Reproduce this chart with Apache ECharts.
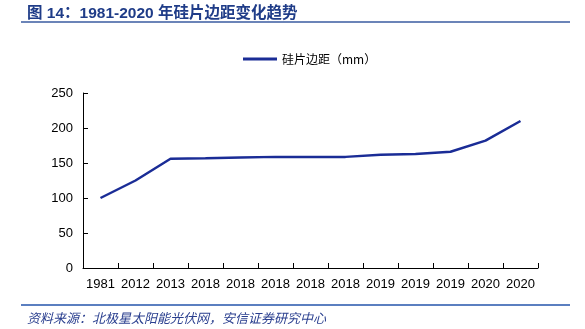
<!DOCTYPE html>
<html><head><meta charset="utf-8">
<script src="https://cdn.jsdelivr.net/npm/echarts@6/dist/echarts.min.js"></script>
<style>html,body{margin:0;padding:0;background:#fff}#c{width:585px;height:329px}</style>
</head><body><div id="c"></div>
<script>
var categories = ['1981','2012','2013','2018','2018','2018','2018','2018','2019','2019','2019','2020','2020'];
var edgeValues = [100,125,156,156.75,157.75,158.75,158.75,158.75,161.7,163,166,182,210];
var seriesName = '硅片边距（mm）';
var yTicks = [0,50,100,150,200,250];
var titleText = '图 14：1981-2020 年硅片边距变化趋势';
var sourceText = '资料来源：北极星太阳能光伏网，安信证券研究中心';

var chart = echarts.init(document.getElementById('c'), null, {renderer:'canvas'});
chart.setOption({
  animation:false,
  backgroundColor:'#fff',
  title:[{
    text:titleText, left:22, top:1,
    textStyle:{fontSize:15.5, fontWeight:'bold', color:'#1f3c88', fontFamily:'Liberation Sans, Noto Sans CJK SC, sans-serif'}
  },{
    text:sourceText, left:22, top:307,
    textStyle:{fontSize:13, fontWeight:'normal', fontStyle:'italic', color:'#2a3f8f', fontFamily:'Noto Sans CJK SC, sans-serif'}
  }],
  graphic:[
    {type:'line', shape:{x1:21,y1:22,x2:570,y2:22}, style:{stroke:'#3a5ba0', lineWidth:1.5}},
    {type:'line', shape:{x1:21,y1:305,x2:570,y2:305}, style:{stroke:'#5b7fc0', lineWidth:2}}
  ],
  legend:{
    top:48, left:238, itemWidth:34, itemHeight:3, itemGap:3,
    icon:'rect',
    textStyle:{fontSize:12, color:'#000', fontFamily:'Noto Sans CJK SC, sans-serif'},
    data:[seriesName]
  },
  grid:{left:83, right:47, top:93, bottom:61},
  xAxis:{
    type:'category', data:categories, boundaryGap:true,
    axisLine:{lineStyle:{color:'#000', width:1}},
    axisTick:{show:true, length:5, inside:true, lineStyle:{color:'#000'}, alignWithLabel:false},
    axisLabel:{interval:0, color:'#000', fontSize:13, margin:10, fontFamily:'Liberation Sans, Arial, sans-serif'},
    splitLine:{show:false}
  },
  yAxis:{
    type:'value', min:yTicks[0], max:yTicks[yTicks.length-1], interval:50,
    axisLine:{show:true, lineStyle:{color:'#000', width:1}},
    axisTick:{show:true, length:5, inside:true, lineStyle:{color:'#000'}},
    axisLabel:{color:'#000', fontSize:13, margin:10, fontFamily:'Liberation Sans, Arial, sans-serif'},
    splitLine:{show:false}
  },
  series:[{
    name:seriesName, type:'line', data:edgeValues,
    symbol:'none', smooth:false,
    lineStyle:{color:'#1a2c96', width:2.5},
    itemStyle:{color:'#1a2c96'}
  }]
});
</script></body></html>
